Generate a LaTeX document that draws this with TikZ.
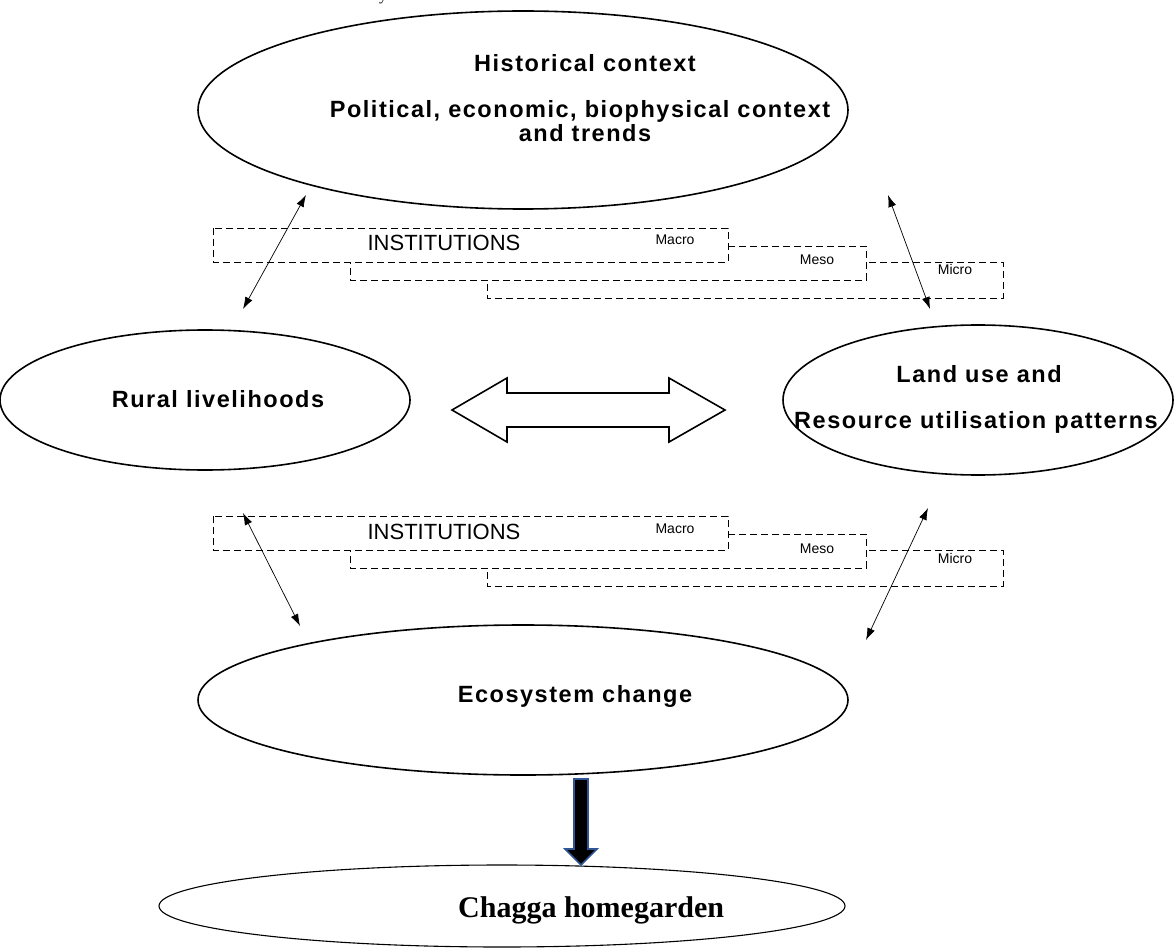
\documentclass[tikz,border=0pt]{standalone}
\usepackage{fontspec}
\setmainfont{Liberation Serif}
\setsansfont{Liberation Sans}
\usetikzlibrary{shapes.geometric,arrows.meta}
\tikzset{
  oval/.style={ellipse, draw, line width=1.6pt, inner sep=0pt},
  lbl/.style={font=\sffamily\bfseries\fontsize{23.5}{28}\selectfont\addfontfeature{LetterSpace=6.5}, anchor=base, inner sep=0pt},
  inst/.style={draw, dash pattern=on 7pt off 4pt, line width=0.8pt, fill=white},
  itext/.style={font=\sffamily\fontsize{22}{26}\selectfont, anchor=base, inner sep=0pt},
  stext/.style={font=\sffamily\fontsize{14}{16}\selectfont, anchor=base, inner sep=0pt},
  link/.style={line width=0.7pt, {Latex[length=12pt,width=8pt]}-{Latex[length=12pt,width=8pt]}},
}
\begin{document}
\begin{tikzpicture}[x=1pt,y=-1pt]
\useasboundingbox (0,0) rectangle (1174,949);
% cut-off text at the top edge
\node[font=\rmfamily\fontsize{16}{18}\selectfont, anchor=base, inner sep=0pt] (cut) at (383,0.5) {y};
% ellipses
\node[oval, minimum width=650pt, minimum height=198pt] (hist) at (523,110) {};
\node[oval, minimum width=410pt, minimum height=140pt] (rural) at (205,400) {};
\node[oval, minimum width=390pt, minimum height=150pt] (land) at (978,400) {};
\node[oval, minimum width=650pt, minimum height=150pt] (eco) at (523,700) {};
\node[ellipse, draw, line width=1.1pt, minimum width=686pt, minimum height=82pt] (chagga) at (502,906) {};
% texts
\node[lbl] (t1) at (585,72) {Historical context};
\node[lbl] (t2) at (580,118) {Political, economic, biophysical context};
\node[lbl] (t2b) at (585,142) {and trends};
\node[lbl] (t3) at (218,407) {Rural livelihoods};
\node[lbl] (t4) at (979,382) {Land use and};
\node[lbl] (t5) at (976,428) {Resource utilisation patterns};
\node[lbl] (t6) at (575,702) {Ecosystem change};
\node[font=\rmfamily\bfseries\fontsize{30}{36}\selectfont, anchor=base west, inner sep=0pt] (t7) at (458,917) {Chagga homegarden};
% institutions
\foreach \dy/\n in {0/u,288/l}{
  \draw[inst] (487,262+\dy) rectangle (1003,298+\dy);
  \draw[inst] (350,246+\dy) rectangle (866,280+\dy);
  \draw[inst] (213,228+\dy) rectangle (728,262+\dy);
  \node[itext] (inst\n) at (444,251+\dy) {INSTITUTIONS};
  \node[stext] (macro\n) at (675,245+\dy) {Macro};
  \node[stext] (meso\n) at (817,265+\dy) {Meso};
  \node[stext] (micro\n) at (955,275+\dy) {Micro};
}
% connector coordinates
\coordinate (a1) at (306,195);
\coordinate (a2) at (243,309);
\coordinate (b1) at (888,195);
\coordinate (b2) at (930,309);
\coordinate (c1) at (243,513);
\coordinate (c2) at (300,626);
\coordinate (d1) at (928,508);
\coordinate (d2) at (866,640);
\draw[link] (a1) -- (a2);
\draw[link] (b1) -- (b2);
\draw[link] (c1) -- (c2);
\draw[link] (d1) -- (d2);
% big double arrow
\draw[line width=1.6pt, line join=miter, fill=white] (452,410) -- (507,378) -- (507,393) -- (669,393) -- (669,378) -- (725,410) -- (669,442) -- (669,427) -- (507,427) -- (507,442) -- cycle;
% down arrow
\definecolor{arrowblue}{RGB}{47,85,151}
\draw[draw=arrowblue, fill=black, line width=1.6pt, line join=miter] (574,779) -- (588,779) -- (588,849) -- (597,849) -- (581,865) -- (565,849) -- (574,849) -- cycle;
\end{tikzpicture}
\end{document}
